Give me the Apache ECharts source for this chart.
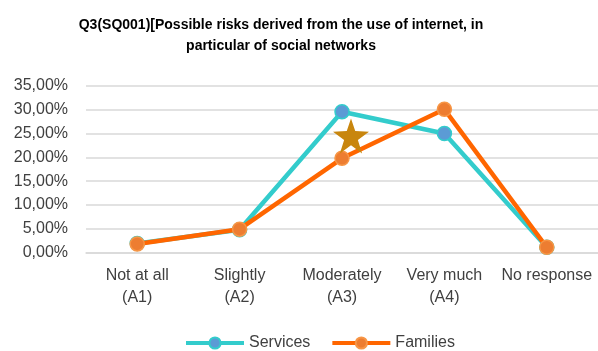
<!DOCTYPE html>
<html>
<head>
<meta charset="UTF-8">
<title>Q3(SQ001)</title>
<script src="https://cdn.jsdelivr.net/npm/echarts@6/dist/echarts.min.js"></script>
<style>
  html, body { margin: 0; padding: 0; background: #fff; }
  #main { width: 598px; height: 351px; }
</style>
</head>
<body>
<div id="main"></div>
<script>
var categories = ['Not at all\n(A1)', 'Slightly\n(A2)', 'Moderately\n(A3)', 'Very much\n(A4)', 'No response'];
var services = [1.9, 4.8, 29.6, 25.0, 1.1];
var families = [1.8, 4.9, 19.8, 30.1, 1.1];
// the star drawn over "Moderately"
var starPoint = [[2, 24.5]];
var yTicks = { min: 0, max: 35, interval: 5 };

var myChart = echarts.init(document.getElementById('main'));
var option = {
  animation: false,
  textStyle: { fontFamily: 'Liberation Sans, Arial, sans-serif' },
  title: {
    text: 'Q3(SQ001)[Possible risks derived from the use of internet, in\nparticular of social networks',
    left: 276,
    textAlign: 'center',
    top: 10,
    textStyle: {
      fontSize: 14,
      fontWeight: 'bold',
      color: '#000',
      lineHeight: 21
    }
  },
  legend: {
    bottom: -5,
    left: 179,
    itemWidth: 58,
    itemHeight: 14,
    itemGap: 20,
    lineStyle: { width: 4 },
    textStyle: { fontSize: 16, color: '#404040' },
    data: ['Services', 'Families']
  },
  grid: { left: 86, right: -4, top: 86, bottom: 98.5 },
  xAxis: {
    type: 'category',
    data: categories,
    boundaryGap: true,
    axisLine: { lineStyle: { color: '#D9D9D9', width: 1.5 } },
    axisTick: { show: false },
    axisLabel: { interval: 0, fontSize: 16, color: '#404040', lineHeight: 22, margin: 12 }
  },
  yAxis: {
    type: 'value',
    min: yTicks.min,
    max: yTicks.max,
    interval: yTicks.interval,
    axisLine: { show: false },
    axisTick: { show: false },
    splitLine: { lineStyle: { color: '#D9D9D9', width: 1.5 } },
    axisLabel: {
      fontSize: 16,
      color: '#404040',
      margin: 18,
      formatter: function (v) { return v.toFixed(2).replace('.', ',') + '%'; }
    }
  },
  series: [
    {
      name: 'Services',
      type: 'line',
      data: services,
      symbol: 'circle',
      symbolSize: 14,
      lineStyle: { color: '#33CCCC', width: 4.5 },
      itemStyle: { color: '#5B9BD5', borderColor: '#33CCCC', borderWidth: 1.5 },
      z: 2
    },
    {
      name: 'Families',
      type: 'line',
      data: families,
      symbol: 'circle',
      symbolSize: 14,
      lineStyle: { color: '#FF6600', width: 4.5 },
      itemStyle: { color: '#ED7D31', borderColor: '#F79646', borderWidth: 1.5 },
      z: 3
    },
    {
      name: 'star',
      type: 'scatter',
      data: starPoint,
      symbol: 'path://M50,0 L61.8,36.2 L100,38.2 L69.1,61.8 L80.9,100 L50,76.4 L19.1,100 L30.9,61.8 L0,38.2 L38.2,36.2 Z',
      symbolSize: [36, 35],
      symbolOffset: [9, 0],
      itemStyle: { color: '#C8860E', opacity: 1 },
      z: 4
    }
  ]
};
myChart.setOption(option);
</script>
</body>
</html>
